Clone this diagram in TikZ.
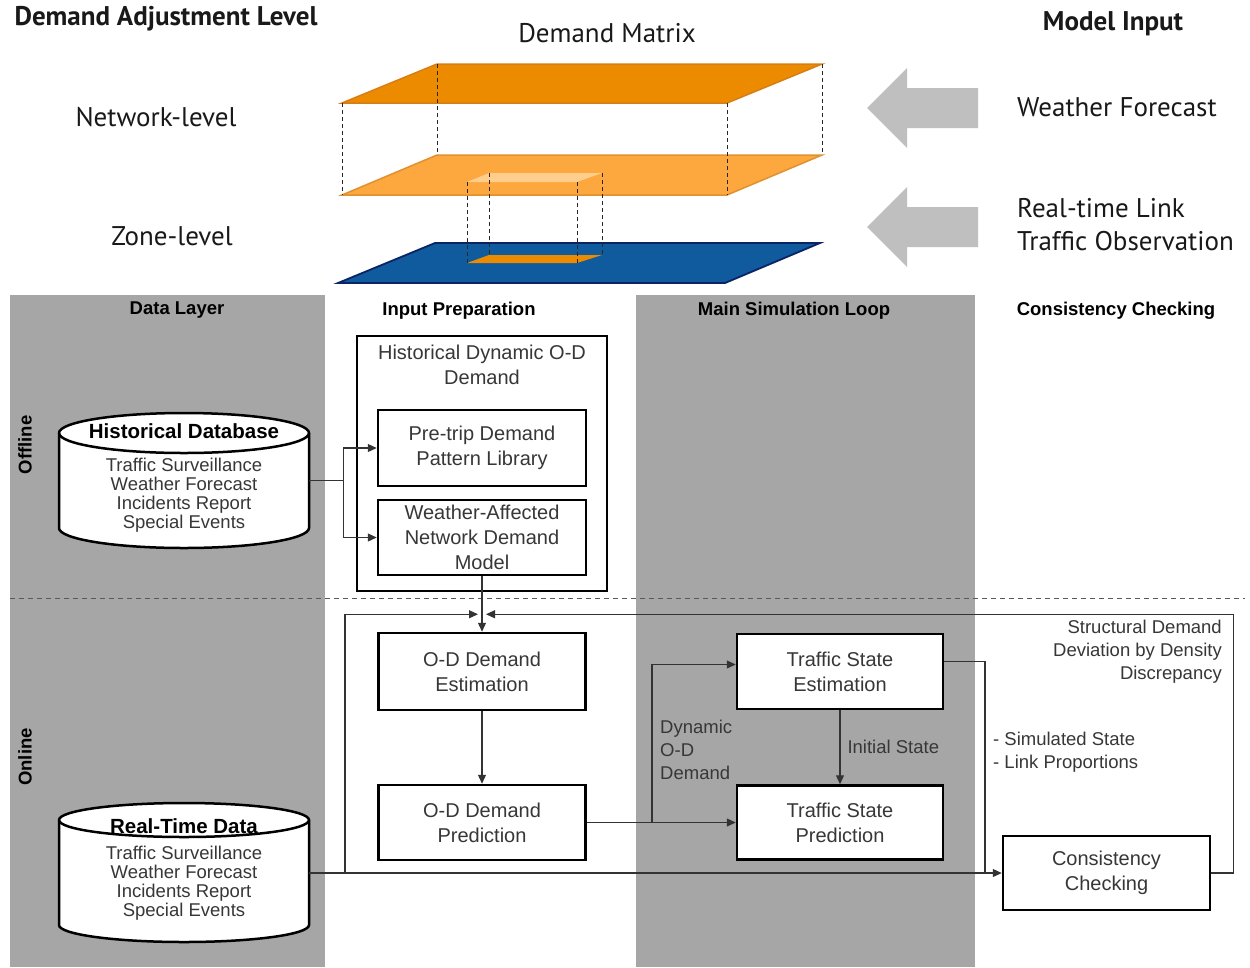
\documentclass[tikz,border=0pt]{standalone}
\usepackage{fontspec}
\setmainfont{Liberation Sans}
\newfontfamily\topfont{PT Sans}
\usetikzlibrary{arrows.meta,calc}
\definecolor{colgray}{RGB}{166,166,166}
\definecolor{arrgray}{RGB}{191,191,191}
\definecolor{orA}{RGB}{237,139,0}
\definecolor{orAline}{RGB}{214,125,20}
\definecolor{orB}{RGB}{252,168,62}
\definecolor{orBline}{RGB}{225,145,45}
\definecolor{orC}{RGB}{255,206,140}
\definecolor{blA}{RGB}{16,90,158}
\definecolor{blAline}{RGB}{10,36,100}
\definecolor{txtgray}{RGB}{55,55,55}
\begin{document}
\begin{tikzpicture}[x=1pt,y=-1pt,
  box/.style={draw=black, fill=white, line width=2.5pt, align=center, inner sep=0pt, font=\fontsize{20}{25}\selectfont, text=txtgray},
  conn/.style={draw=black!80, line width=1.1pt},
  arr/.style={conn,-{Triangle[length=9pt,width=8pt]}},
  hdr/.style={font=\bfseries\fontsize{18.5}{20}\selectfont, inner sep=0pt},
  lbl/.style={font=\fontsize{18.5}{23}\selectfont, text=txtgray, inner sep=0pt},
  cyltxt/.style={font=\fontsize{18.5}{19}\selectfont, text=txtgray, align=center, inner sep=0pt},
  cyltitle/.style={font=\bfseries\fontsize{20.5}{24}\selectfont, inner sep=0pt},
  toptxt/.style={font=\topfont\fontsize{27}{33}\selectfont, inner sep=0pt, text=black!90},
  topbold/.style={font=\topfont\bfseries\fontsize{27}{33}\selectfont, inner sep=0pt, text=black!90},
  dline/.style={draw=black!85, line width=0.9pt, dash pattern=on 4pt off 3pt},
]
\useasboundingbox (0,0) rectangle (1250,967);
\fill[white] (0,0) rectangle (1250,967);

% ---------- top part ----------
\node[topbold] at (166,19) {Demand Adjustment Level};
\node[toptxt] at (607,33) {Demand Matrix};
\node[topbold] at (1113,24) {Model Input};
\node[toptxt] at (156,117) {Network-level};
\node[toptxt] at (172,236) {Zone-level};
\node[toptxt, anchor=west] at (1017,107) {Weather Forecast};
\node[toptxt, anchor=west, align=left] at (1017,225) {Real-time Link\\Traffic Observation};

% planes
\filldraw[fill=orA, draw=orAline, line width=1.5pt] (437,64) -- (822,64) -- (727,103) -- (342,103) -- cycle;
\filldraw[fill=orB, draw=orBline, line width=1.5pt] (437,155) -- (822,155) -- (727,195) -- (342,195) -- cycle;
\fill[orC] (489,173) -- (602,173) -- (577,182) -- (467,182) -- cycle;
\filldraw[fill=blA, draw=blAline, line width=1.8pt] (435,243) -- (820,243) -- (725,283) -- (338,283) -- cycle;
\fill[orA] (489,255) -- (602,255) -- (577,263) -- (467,263) -- cycle;
% dashed verticals
\draw[dline] (342,103) -- (342,195);
\draw[dline] (437,64) -- (437,155);
\draw[dline] (727,103) -- (727,195);
\draw[dline] (822,64) -- (822,155);
\draw[dline] (467,182) -- (467,263);
\draw[dline] (489,173) -- (489,255);
\draw[dline] (577,182) -- (577,263);
\draw[dline] (602,173) -- (602,255);

% gray arrows
\fill[arrgray] (978,88) -- (907,88) -- (907,68) -- (867,108) -- (907,148) -- (907,128) -- (978,128) -- cycle;
\fill[arrgray] (978,207) -- (907,207) -- (907,187) -- (867,227) -- (907,267) -- (907,247) -- (978,247) -- cycle;

% ---------- lower part ----------
\fill[colgray] (10,295) rectangle (325,967);
\fill[colgray] (636,295) rectangle (975,967);
\draw[black!65, line width=1pt, dash pattern=on 5pt off 4pt] (10,598) -- (1245,598);

\node[hdr] at (177,310) {Data Layer};
\node[hdr] at (459,311) {Input Preparation};
\node[hdr] at (794,311) {Main Simulation Loop};
\node[hdr] at (1116,311) {Consistency Checking};
\node[hdr, rotate=90] at (25,445) {Offline};
\node[hdr, rotate=90] at (25,757) {Online};

% cylinders
\filldraw[fill=white, draw=black, line width=2.5pt] (59,433) -- (59,528) arc[start angle=180,end angle=360,x radius=125pt,y radius=20pt] -- (309,433) arc[start angle=0,end angle=180,x radius=125pt,y radius=20pt] -- cycle;
\draw[black, line width=2.5pt] (59,433) arc[start angle=180,end angle=360,x radius=125pt,y radius=20pt];
\node[minimum width=250pt, minimum height=135pt, inner sep=0pt] (hdb) at (184,480.5) {};
\node[cyltitle] at (184,431) {Historical Database};
\node[cyltxt] at (184,495.5) {Traffic Surveillance\\Weather Forecast\\Incidents Report\\Special Events};

\filldraw[fill=white, draw=black, line width=2.5pt] (59,820) -- (59,925) arc[start angle=180,end angle=360,x radius=125pt,y radius=17pt] -- (309,820) arc[start angle=0,end angle=180,x radius=125pt,y radius=17pt] -- cycle;
\draw[black, line width=2.5pt] (59,820) arc[start angle=180,end angle=360,x radius=125pt,y radius=17pt];
\node[minimum width=250pt, minimum height=139pt, inner sep=0pt] (rtd) at (184,873) {};
\node[cyltitle] at (184,826) {Real-Time Data};
\node[cyltxt] at (184,883.5) {Traffic Surveillance\\Weather Forecast\\Incidents Report\\Special Events};

% boxes
\node[box, minimum width=250pt, minimum height=255pt] (hist) at (482,463.5) {};
\node[box, draw=none, fill=none] at (482,364.5) {Historical Dynamic O-D\\Demand};
\node[box, minimum width=208pt, minimum height=76pt] (pre) at (482,448) {Pre-trip Demand\\Pattern Library};
\node[box, minimum width=208pt, minimum height=75pt] (wam) at (482,537.5) {Weather-Affected\\Network Demand\\Model};
\node[box, minimum width=207pt, minimum height=77pt] (ode) at (482,671.5) {O-D Demand\\Estimation};
\node[box, minimum width=207pt, minimum height=75pt] (odp) at (482,822.5) {O-D Demand\\Prediction};
\node[box, minimum width=206pt, minimum height=75pt] (tse) at (840,671.5) {Traffic State\\Estimation};
\node[box, minimum width=206pt, minimum height=74pt] (tsp) at (840,822.5) {Traffic State\\Prediction};
\node[box, minimum width=207pt, minimum height=74pt] (cc) at (1106.5,873) {Consistency\\Checking};

% connectors
\coordinate (sp) at ($(hdb.east)+(34,0)$);
\draw[conn] (hdb.east) -- (sp);
\draw[arr] (sp) |- (pre.west);
\draw[arr] (sp) |- (wam.west);
\draw[arr] (wam.south) -- (ode.north);
\draw[arr] (ode.south) -- (odp.north);
\draw[arr] (odp.east) -- (tsp.west);
\coordinate (br) at (652,0 |- odp.east);
\draw[arr] (br) |- ($(tse.west)+(0,-7)$);
\draw[arr] (tse.south) -- (tsp.north) node[midway, right=7pt, lbl] {Initial State};
\coordinate (j2) at (985,0 |- cc.west);
\draw[conn] ($(tse.east)+(0,-10)$) -| (j2);
\draw[arr] (rtd.east) -- (cc.west);
\coordinate (j1) at (345,0 |- rtd.east);
\draw[arr] (j1) |- ($(hist.south)+(-4,22)$);
\draw[arr] (cc.east) -- ++(22,0) |- ($(hist.south)+(4,22)$);

% labels
\node[lbl, align=right, anchor=east] at (1222,652) {Structural Demand\\Deviation by Density\\Discrepancy};
\node[lbl, align=left, anchor=west] at (993,752.5) {- Simulated State\\- Link Proportions};
\node[lbl, align=left, anchor=west] at (660,750) {Dynamic\\O-D\\Demand};
\end{tikzpicture}
\end{document}
